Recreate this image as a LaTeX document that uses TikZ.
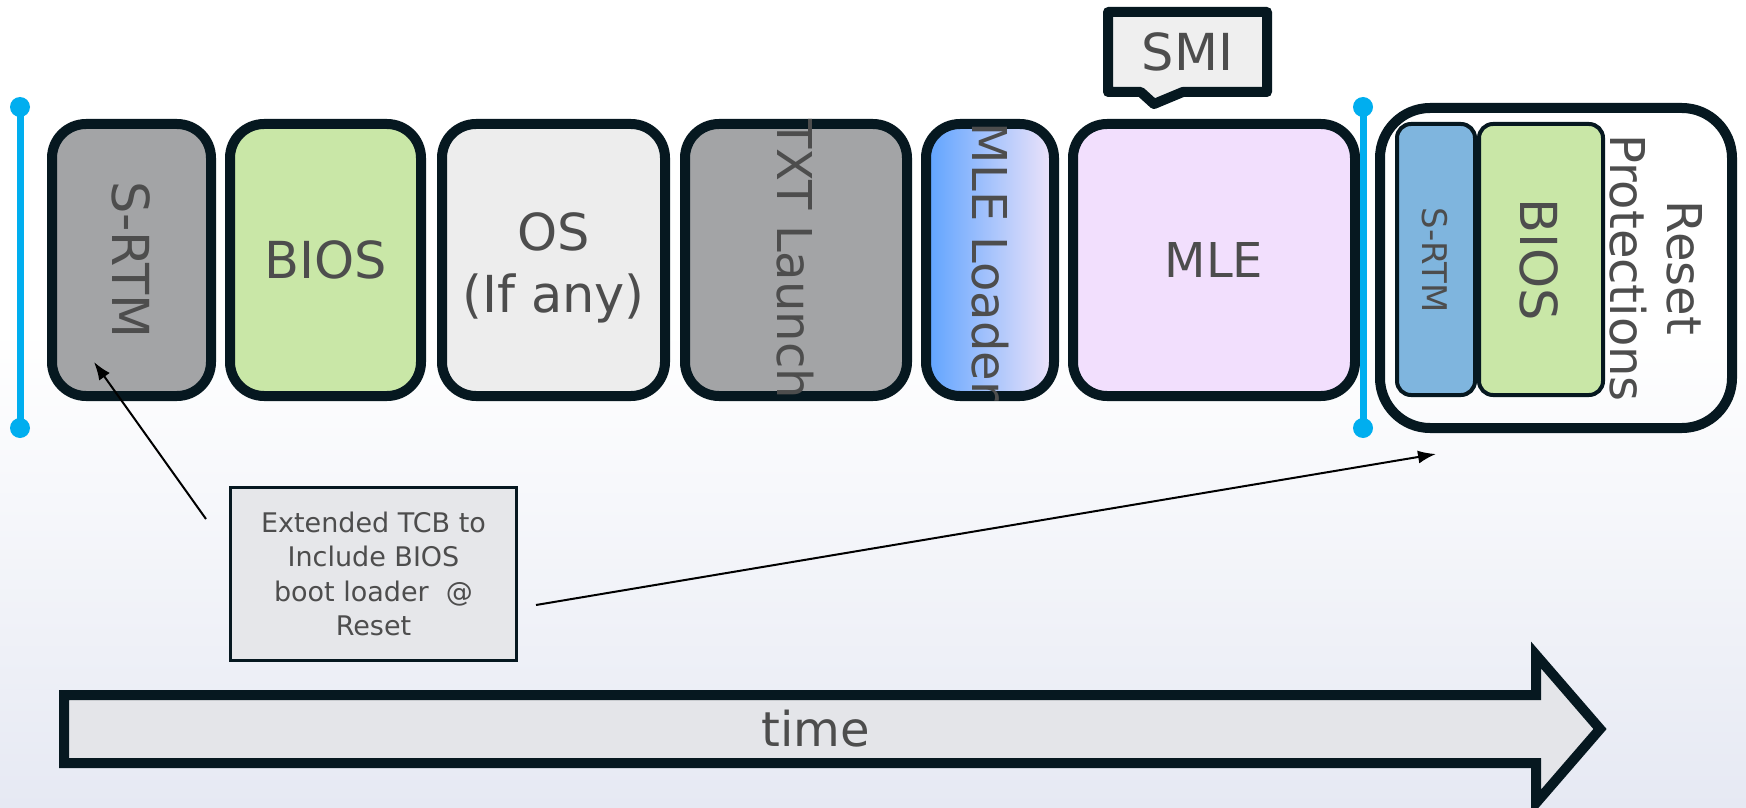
\documentclass[tikz,border=0pt]{standalone}
\usepackage{fontspec}
\setmainfont{DejaVu Sans}
\usepackage{xcolor}
\usepackage{tikz}
\usetikzlibrary{arrows.meta, shapes.callouts}
\definecolor{framenavy}{RGB}{6,24,32}
\definecolor{labelgray}{RGB}{77,77,77}
\definecolor{markerblue}{RGB}{0,174,239}
\definecolor{srtmgray}{RGB}{163,164,166}
\definecolor{biosgreen}{RGB}{201,231,167}
\definecolor{osgray}{RGB}{237,237,237}
\definecolor{mlepink}{RGB}{242,223,253}
\definecolor{smigray}{RGB}{239,239,239}
\definecolor{srtmblue}{RGB}{127,181,222}
\definecolor{notegray}{RGB}{230,231,234}
\definecolor{timegray}{RGB}{228,229,233}
\definecolor{loaderleft}{RGB}{94,163,255}
\definecolor{loadermid}{RGB}{140,196,255}
\definecolor{loaderright}{RGB}{239,228,249}
\definecolor{bgbottom}{RGB}{230,233,243}
\newcommand\stagefont{\fontsize{24}{30.5}\selectfont}
\newcommand\widestagefont{\fontsize{25.5}{31}\selectfont}
\newcommand\resetfont{\fontsize{24}{28.5}\selectfont}
\newcommand\tinystagefont{\fontsize{17}{20}\selectfont}
\newcommand\notefont{\fontsize{13.5}{17.3}\selectfont}

\begin{document}
\begin{tikzpicture}[x=0.5pt, y=-0.5pt,
    stage/.style={draw=framenavy, line width=5pt, rounded corners=17pt, minimum width=#1, minimum height=136pt, inner sep=0pt, text=labelgray, font=\stagefont, align=center},
    stage/.default=80pt,
    inner stage/.style={draw=framenavy, line width=2pt, rounded corners=7pt, minimum width=#1, minimum height=135.5pt, inner sep=0pt},
    vlabel/.style={rotate=-90, inner sep=0pt, text=labelgray, font=\stagefont, align=center},
    pointer/.style={-{Latex[length=9pt,width=6.5pt]}, line width=1pt, black},
    timearrow/.style={draw=framenavy, line width=5pt, fill=timegray, line join=miter}]
    \useasboundingbox (0,0) rectangle (1746,808);

    % Background
    \fill[white] (0,0) rectangle (1746,808);
    \shade[top color=white, bottom color=bgbottom] (0,330) rectangle (1746,808);

    % Boot stages
    \node[stage=79.5pt, fill=srtmgray] (srtm) at (131.5,260) {};
    \node[vlabel, font=\widestagefont] (srtmtext) at (srtm) {S-RTM};
    \node[stage=95.5pt, fill=biosgreen, font=\widestagefont] (bios) at (325.5,260) {BIOS};
    \node[stage=111.5pt, fill=osgray] (os) at (553.5,260) {};
    \node[text=labelgray, font=\widestagefont, align=center, inner sep=0pt] (ostext) at (553.5,268) {OS\\(If any)};
    \node[stage=111pt, fill=srtmgray] (txt) at (796,260) {};
    \node[vlabel] (txttext) at (795,259) {TXT Launch};
    \node[stage=64pt, left color=loaderleft, middle color=loadermid, right color=loaderright] (loader) at (990,260) {};
    \node[vlabel] (loadertext) at (990,262) {MLE Loader};
    \node[stage=141pt, fill=mlepink] (mle) at (1214,260) {MLE};

    % SMI callout
    \node[rectangle callout, callout absolute pointer={(1154,104)}, callout pointer width=21pt, draw=framenavy, line width=5pt, line join=round, fill=smigray, minimum width=79.5pt, minimum height=40pt, inner sep=0pt, text=labelgray, font=\widestagefont] (smi) at (1187.5,52) {SMI};

    % Reset protections group
    \node[draw=framenavy, line width=5pt, rounded corners=25pt, minimum width=176pt, minimum height=160pt] (reset) at (1556,268) {};
    \node[inner stage=39pt, fill=srtmblue] (srtm2) at (1436,259.5) {};
    \node[vlabel, font=\tinystagefont] (srtm2text) at (1435,260) {S-RTM};
    \node[inner stage=62pt, fill=biosgreen] (bios2) at (1541,259.5) {};
    \node[vlabel, font=\widestagefont] (bios2text) at (1539,260) {BIOS};
    \node[vlabel, font=\resetfont] (resettext) at (1656.5,268) {Reset\\Protections};

    % Launch markers
    \foreach \x in {20,1363} {
        \draw[markerblue, line width=3.5pt] (\x,107) -- (\x,428);
        \fill[markerblue] (\x,107) circle[radius=5pt];
        \fill[markerblue] (\x,428) circle[radius=5pt];
    }

    % Note and its pointers
    \node[draw=framenavy, line width=1.5pt, fill=notegray, minimum width=143pt, minimum height=86.5pt, align=center, text=labelgray, font=\notefont] (tcb) at (373.5,574) {Extended TCB to\\Include BIOS\\boot loader~~@\\Reset};
    \coordinate (tcbleft) at (206,519);
    \coordinate (srtmtip) at (94,362);
    \coordinate (tcbright) at (536,605);
    \coordinate (resettip) at (1436,454);
    \draw[pointer] (tcbleft) -- (srtmtip);
    \draw[pointer] (tcbright) -- (resettip);

    % Time arrow
    \draw[timearrow] (64,695) -- (1536,695) -- (1536,655) -- (1600,729) -- (1536,803) -- (1536,763) -- (64,763) -- cycle;
    \node[text=labelgray, font=\stagefont] (time) at (816,729) {time};
\end{tikzpicture}
\end{document}
